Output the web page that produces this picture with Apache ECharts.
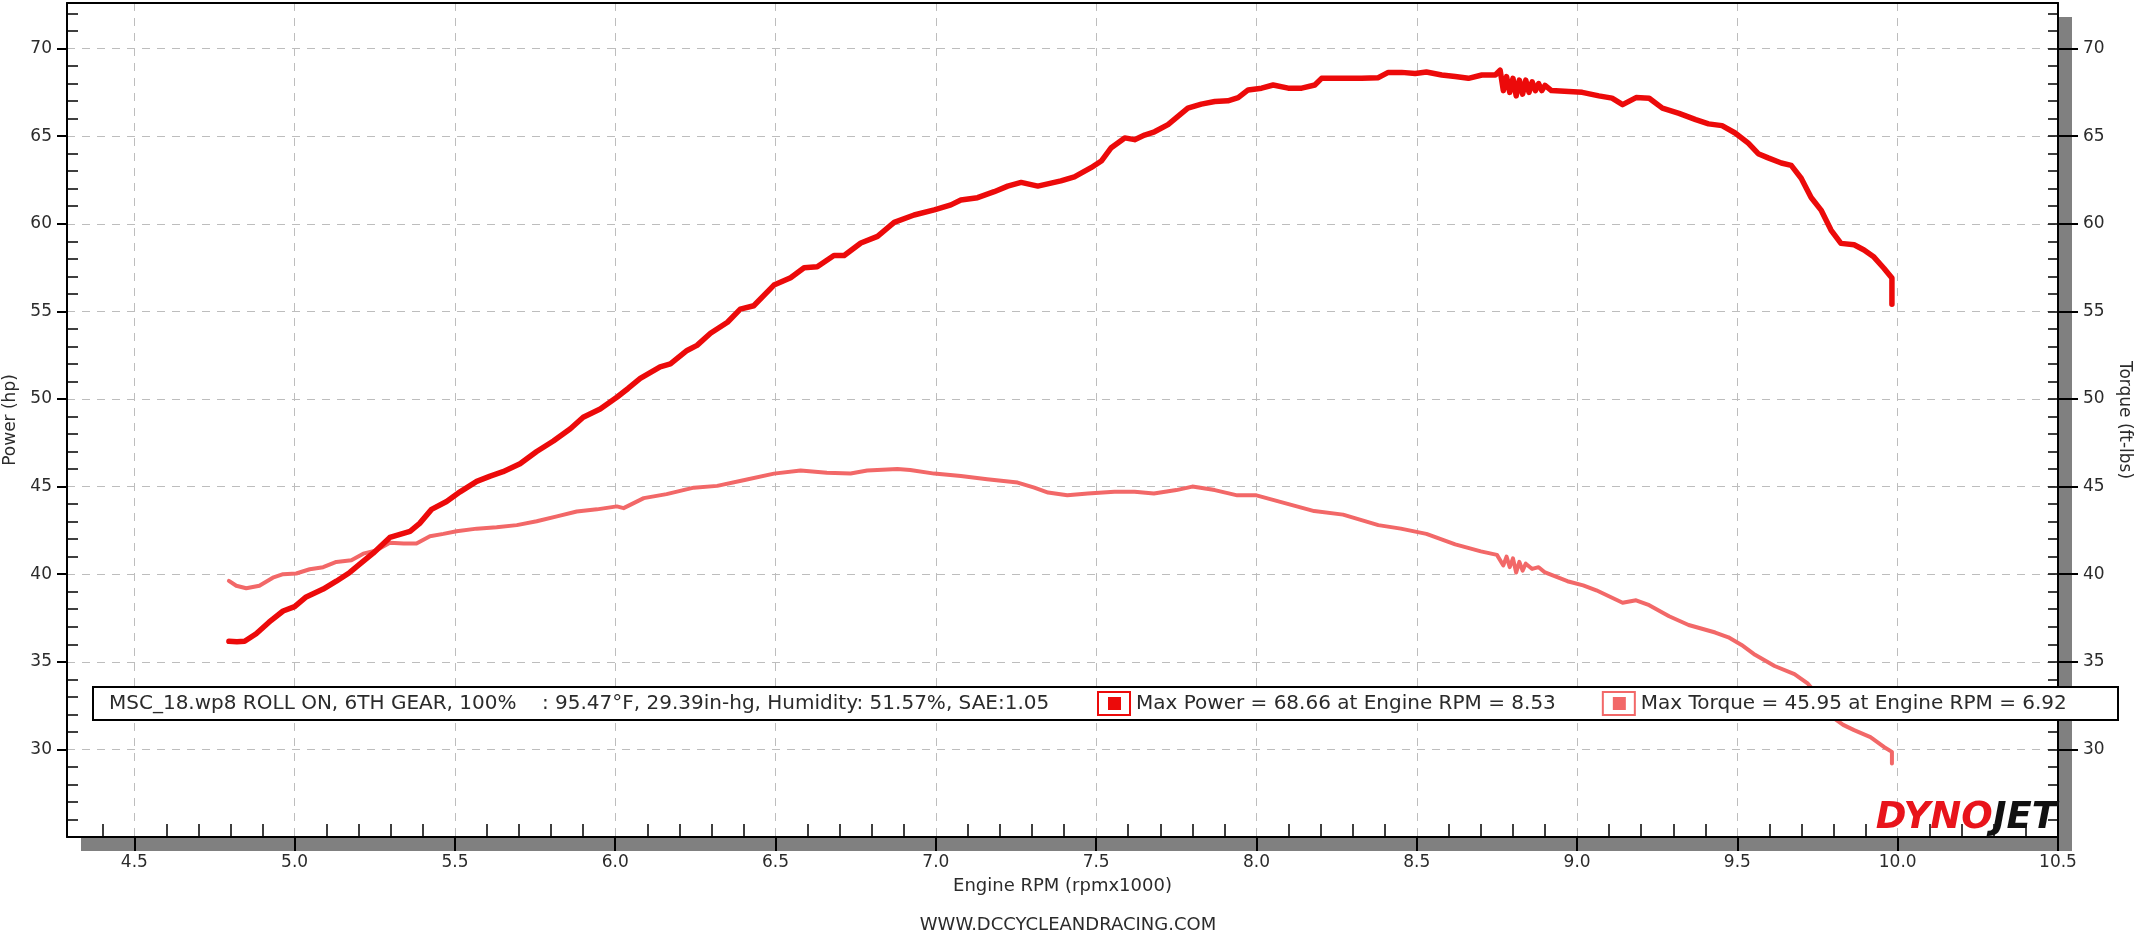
<!DOCTYPE html>
<html>
<head>
<meta charset="utf-8">
<script src="https://cdn.jsdelivr.net/npm/echarts@6/dist/echarts.min.js"></script>
<style>
html,body{margin:0;padding:0;background:#fff;}
#chart{width:2136px;height:936px;}
</style>
</head>
<body>
<div id="chart"></div>
<script>
// ---- data ----
const powerRpm = [4.795,4.82,4.844,4.88,4.92,4.964,5.0,5.036,5.089,5.13,5.172,5.203,5.245,5.297,5.36,5.39,5.427,5.474,5.516,5.568,5.61,5.65,5.703,5.755,5.807,5.86,5.9,5.953,6.005,6.04,6.078,6.14,6.172,6.224,6.255,6.297,6.35,6.39,6.432,6.495,6.547,6.589,6.63,6.682,6.714,6.766,6.818,6.87,6.932,6.995,7.047,7.078,7.13,7.182,7.224,7.266,7.318,7.39,7.432,7.484,7.516,7.547,7.589,7.62,7.651,7.682,7.724,7.755,7.786,7.828,7.87,7.911,7.943,7.974,8.016,8.052,8.099,8.141,8.182,8.203,8.266,8.328,8.38,8.411,8.453,8.495,8.53,8.578,8.62,8.661,8.703,8.745,8.76,8.77,8.78,8.79,8.80,8.81,8.82,8.83,8.84,8.85,8.86,8.87,8.88,8.89,8.90,8.92,8.974,9.016,9.068,9.109,9.142,9.184,9.225,9.266,9.318,9.37,9.41,9.452,9.493,9.534,9.565,9.596,9.637,9.668,9.699,9.73,9.761,9.792,9.823,9.864,9.895,9.926,9.957,9.982,9.982];
const powerHp = [36.17,36.15,36.17,36.6,37.26,37.9,38.15,38.7,39.15,39.6,40.1,40.57,41.2,42.1,42.45,42.9,43.7,44.15,44.7,45.3,45.6,45.85,46.3,47.0,47.6,48.3,48.96,49.43,50.1,50.6,51.17,51.83,52.0,52.77,53.06,53.75,54.38,55.13,55.32,56.5,56.92,57.49,57.55,58.19,58.19,58.9,59.28,60.08,60.5,60.79,61.08,61.36,61.49,61.83,62.15,62.36,62.15,62.45,62.68,63.2,63.58,64.34,64.9,64.8,65.06,65.25,65.66,66.13,66.6,66.83,66.98,67.02,67.2,67.64,67.74,67.92,67.74,67.74,67.92,68.3,68.3,68.3,68.34,68.64,68.64,68.58,68.66,68.49,68.4,68.3,68.49,68.49,68.77,67.6,68.4,67.5,68.3,67.3,68.2,67.4,68.2,67.5,68.1,67.6,68.0,67.6,67.9,67.6,67.55,67.5,67.3,67.17,66.8,67.2,67.16,66.6,66.3,65.94,65.7,65.6,65.18,64.6,64.0,63.76,63.47,63.33,62.6,61.5,60.78,59.64,58.88,58.8,58.5,58.1,57.46,56.9,55.4];

const torqueRpm = [4.795,4.818,4.849,4.89,4.932,4.964,5.005,5.047,5.089,5.13,5.177,5.214,5.255,5.297,5.34,5.38,5.422,5.464,5.505,5.568,5.63,5.693,5.755,5.818,5.88,5.943,6.005,6.026,6.089,6.16,6.245,6.318,6.4,6.495,6.578,6.66,6.734,6.786,6.88,6.92,6.995,7.078,7.16,7.255,7.307,7.35,7.41,7.474,7.557,7.62,7.68,7.75,7.8,7.87,7.94,8.0,8.1,8.18,8.27,8.38,8.45,8.53,8.62,8.70,8.75,8.77,8.78,8.79,8.80,8.81,8.82,8.83,8.84,8.86,8.88,8.90,8.97,9.019,9.06,9.142,9.184,9.225,9.287,9.348,9.431,9.472,9.513,9.555,9.616,9.678,9.72,9.76,9.792,9.83,9.864,9.915,9.957,9.982,9.982];
const torqueFtlb = [39.62,39.34,39.2,39.34,39.8,40.0,40.04,40.28,40.4,40.7,40.8,41.17,41.36,41.8,41.75,41.75,42.17,42.3,42.45,42.6,42.68,42.8,43.02,43.3,43.58,43.7,43.87,43.77,44.34,44.57,44.94,45.04,45.36,45.74,45.92,45.79,45.75,45.92,46.0,45.95,45.74,45.6,45.42,45.23,44.94,44.66,44.5,44.6,44.7,44.7,44.6,44.8,45.0,44.8,44.5,44.5,44.0,43.6,43.4,42.8,42.6,42.3,41.7,41.3,41.1,40.5,41.0,40.4,40.9,40.1,40.7,40.2,40.6,40.3,40.4,40.1,39.6,39.36,39.08,38.37,38.51,38.23,37.6,37.1,36.67,36.4,35.96,35.4,34.76,34.3,33.75,32.9,31.9,31.4,31.1,30.7,30.14,29.86,29.2];

const xTickLabels = ['4.5','5.0','5.5','6.0','6.5','7.0','7.5','8.0','8.5','9.0','9.5','10.0','10.5'];
const yTickLabels = ['30','35','40','45','50','55','60','65','70'];
const seriesNames = ['Power','Torque'];
const legendTexts = ['Max Power = 68.66 at Engine RPM = 8.53','Max Torque = 45.95 at Engine RPM = 6.92'];
const runInfo = 'MSC_18.wp8 ROLL ON, 6TH GEAR, 100%    : 95.47\u00B0F, 29.39in-hg, Humidity: 51.57%, SAE:1.05';
const footerText = 'WWW.DCCYCLEANDRACING.COM';

// ---- derived ----
const xMajor = xTickLabels.map(Number);
const yMajor = yTickLabels.map(Number);
const xMinor = [];
for (let t = 44; t <= 105; t++) { if (t % 5 !== 0) xMinor.push(t / 10); }
const yMinorL = [];
const yMinorR = [];
for (let v = 26; v <= 72; v++) { yMinorR.push(v); if (v % 5 !== 0) yMinorL.push(v); }

const FONT = 'DejaVu Sans';
const TXT = '#2b2b2b';
const X_MIN = 4.29, X_MAX = 10.5, Y_MIN = 25, Y_MAX = 72.6;

const zip = (a, b) => a.map((v, i) => [v, b[i]]);

const chart = echarts.init(document.getElementById('chart'), null, {renderer: 'canvas'});

const dash = {type: [8, 7], color: '#bdbdbd', width: 1};
const blackLine = {color: '#000', width: 2};

const option = {
  backgroundColor: '#ffffff',
  animation: false,
  textStyle: {fontFamily: FONT},
  grid: {
    left: 67, right: 78, top: 3, bottom: 99,
    containLabel: false, outerBoundsMode: 'none',
    show: true, backgroundColor: '#ffffff',
    borderWidth: 0, borderColor: 'transparent',
    shadowColor: '#808080', shadowBlur: 0, shadowOffsetX: 14, shadowOffsetY: 14
  },
  title: {
    text: footerText, left: 'center', top: 911,
    textStyle: {fontFamily: FONT, fontSize: 18, fontWeight: 'normal', color: TXT}
  },
  xAxis: [
    {
      type: 'value', position: 'bottom', min: X_MIN, max: X_MAX, splitNumber: 12,
      name: 'Engine RPM (rpmx1000)', nameLocation: 'middle', nameGap: 40,
      nameTextStyle: {fontFamily: FONT, fontSize: 18, color: TXT},
      axisLine: {show: true, onZero: false, lineStyle: blackLine},
      axisTick: {show: true, inside: false, length: 14, customValues: xMajor, lineStyle: blackLine},
      axisLabel: {show: true, customValues: xMajor, margin: 17, fontFamily: FONT, fontSize: 17, color: TXT,
        formatter: v => v.toFixed(1)},
      splitLine: {show: true, lineStyle: dash}
    },
    {
      type: 'value', position: 'bottom', min: X_MIN, max: X_MAX, splitNumber: 12,
      axisLine: {show: false},
      axisTick: {show: true, inside: true, length: 13, customValues: xMinor, lineStyle: {color: '#000', width: 1.5}},
      axisLabel: {show: false},
      splitLine: {show: false}
    },
    {
      type: 'value', position: 'top', min: X_MIN, max: X_MAX, splitNumber: 12,
      axisLine: {show: true, onZero: false, lineStyle: blackLine},
      axisTick: {show: false}, axisLabel: {show: false}, splitLine: {show: false}
    }
  ],
  yAxis: [
    {
      type: 'value', position: 'left', min: Y_MIN, max: Y_MAX, interval: 5,
      name: 'Power (hp)', nameLocation: 'middle', nameGap: 46, nameRotate: 90,
      nameTextStyle: {fontFamily: FONT, fontSize: 17, color: TXT},
      axisLine: {show: true, onZero: false, lineStyle: blackLine},
      axisTick: {show: true, inside: false, length: 10, customValues: yMajor, lineStyle: blackLine},
      axisLabel: {show: true, customValues: yMajor, margin: 15, fontFamily: FONT, fontSize: 17, color: TXT},
      splitLine: {show: true, lineStyle: dash}
    },
    {
      type: 'value', position: 'right', min: Y_MIN, max: Y_MAX, interval: 5,
      name: 'Torque (ft-lbs)', nameLocation: 'middle', nameGap: 56, nameRotate: -90,
      nameTextStyle: {fontFamily: FONT, fontSize: 17, color: TXT},
      axisLine: {show: true, onZero: false, lineStyle: blackLine},
      axisTick: {show: true, inside: false, length: 20, customValues: yMajor, lineStyle: blackLine},
      axisLabel: {show: true, customValues: yMajor, margin: 25, fontFamily: FONT, fontSize: 17, color: TXT},
      splitLine: {show: false}
    },
    {
      type: 'value', position: 'left', min: Y_MIN, max: Y_MAX, interval: 5,
      axisLine: {show: false},
      axisTick: {show: true, inside: true, length: 11, customValues: yMinorL, lineStyle: {color: '#000', width: 1.5}},
      axisLabel: {show: false}, splitLine: {show: false}
    },
    {
      type: 'value', position: 'right', min: Y_MIN, max: Y_MAX, interval: 5,
      axisLine: {show: false},
      axisTick: {show: true, inside: true, length: 10, customValues: yMinorR, lineStyle: {color: '#000', width: 1.5}},
      axisLabel: {show: false}, splitLine: {show: false}
    }
  ],
  legend: {
    show: true, z: 10, left: 1097, top: 691, orient: 'horizontal', padding: 0,
    itemWidth: 34, itemHeight: 25, itemGap: 46,
    data: seriesNames,
    icon: 'path://M0,0H34V25H0Z M2,2V23H32V2Z M11,6H24V19H11Z',
    formatter: name => legendTexts[seriesNames.indexOf(name)],
    textStyle: {fontFamily: FONT, fontSize: 20, color: TXT},
    selectedMode: false
  },
  graphic: [
    {
      type: 'rect', z: 8, shape: {x: 93, y: 687, width: 2025, height: 33},
      style: {fill: '#fff', stroke: '#000', lineWidth: 2}
    },
    {
      type: 'text', z: 9, x: 109, y: 704,
      style: {text: runInfo, font: '20px "DejaVu Sans"', fill: TXT, verticalAlign: 'middle', align: 'left'}
    },
    {
      type: 'text', z: 9, x: 2057, y: 837,
      style: {
        text: '{a|DYNO}{b|JET}', align: 'right', verticalAlign: 'bottom',
        rich: {
          a: {fontFamily: FONT, fontSize: 37, fontWeight: 'bold', fontStyle: 'italic', fill: '#e8141b'},
          b: {fontFamily: FONT, fontSize: 37, fontWeight: 'bold', fontStyle: 'italic', fill: '#111'}
        }
      }
    }
  ],
  series: [
    {
      name: seriesNames[0], type: 'line', xAxisIndex: 0, yAxisIndex: 0,
      data: zip(powerRpm, powerHp), showSymbol: false, symbol: 'none', smooth: false, z: 3,
      lineStyle: {color: '#ec0a0a', width: 5.5, join: 'round', cap: 'round'},
      itemStyle: {color: '#ec0a0a'}
    },
    {
      name: seriesNames[1], type: 'line', xAxisIndex: 0, yAxisIndex: 1,
      data: zip(torqueRpm, torqueFtlb), showSymbol: false, symbol: 'none', smooth: false, z: 2,
      lineStyle: {color: '#f26868', width: 4, join: 'round', cap: 'round'},
      itemStyle: {color: '#f26868'}
    }
  ]
};
chart.setOption(option);
</script>
</body>
</html>
